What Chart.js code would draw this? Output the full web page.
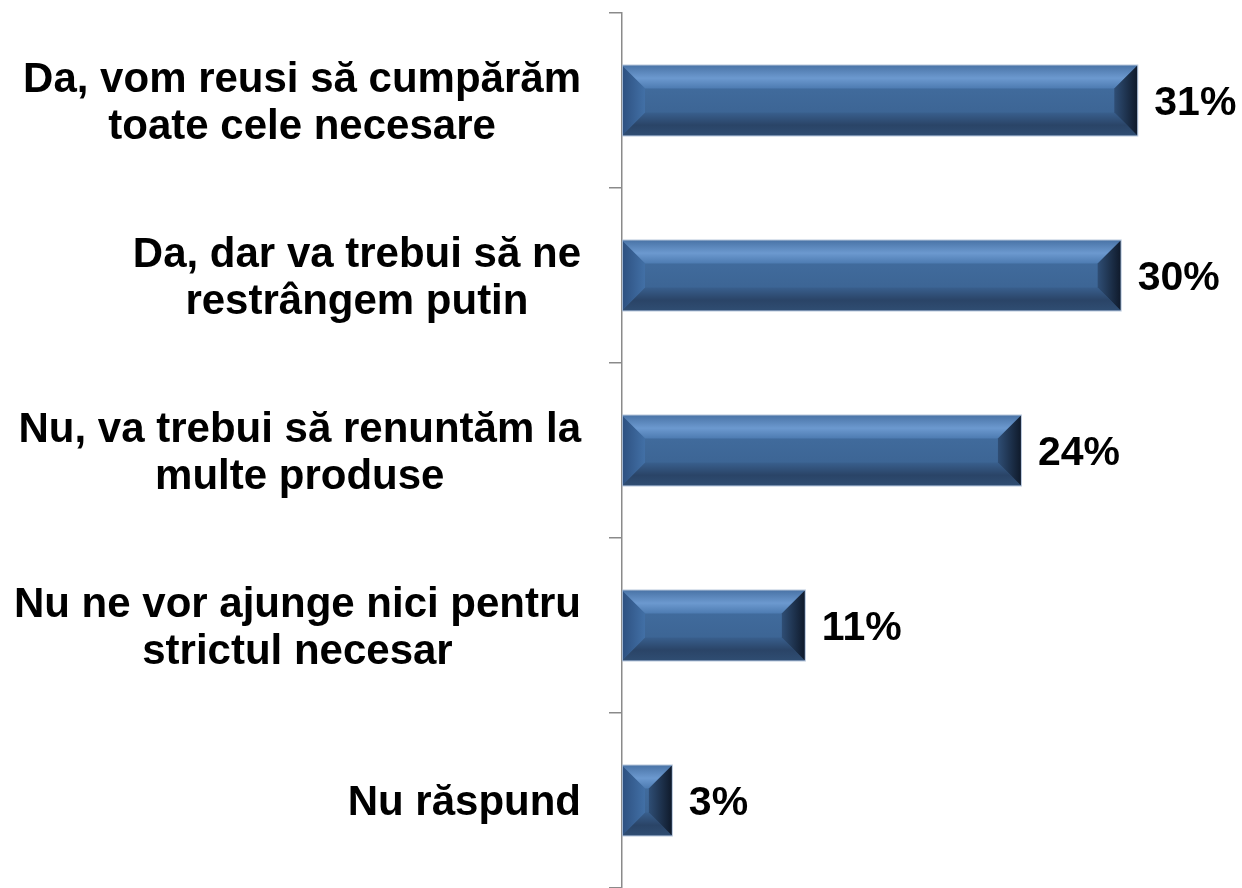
<!DOCTYPE html>
<html lang="ro">
<head>
<meta charset="utf-8">
<title>Grafic</title>
<script src="https://cdn.jsdelivr.net/npm/chart.js@4"></script>
<style>
    html, body { margin: 0; padding: 0; background: #fff; }
    #cadru { width: 1242px; height: 888px; }
</style>
</head>
<body>
<div id="cadru"><canvas id="grafic"></canvas></div>
<script>
// =============================
// DATE
// =============================

const categorii = [
    ['Da, vom reusi să cumpărăm', 'toate cele necesare'],
    ['Da, dar va trebui să ne', 'restrângem putin'],
    ['Nu, va trebui să renuntăm la', 'multe produse'],
    ['Nu ne vor ajunge nici pentru', 'strictul necesar'],
    ['Nu răspund']
];

const procente = [31, 30, 24, 11, 3];

const etichete = ['31%', '30%', '24%', '11%', '3%'];

const FONT_CATEGORII = 'bold 42px "Liberation Sans", Arial, sans-serif';
const FONT_VALORI = 'bold 41px "Liberation Sans", Arial, sans-serif';


// =============================
// PLUGIN: BARE CU BIZOU
// =============================

function poligon(ctx, puncte, umplere) {
    ctx.beginPath();
    ctx.moveTo(puncte[0][0], puncte[0][1]);
    puncte.slice(1).forEach(p => ctx.lineTo(p[0], p[1]));
    ctx.closePath();
    ctx.fillStyle = umplere;
    ctx.fill();
}

const pluginBizou = {
    id: 'bizou',
    afterDatasetsDraw(chart) {
        const ctx = chart.ctx;

        chart.getDatasetMeta(0).data.forEach(bara => {
            const { x, y, base, height } = bara.getProps(['x', 'y', 'base', 'height'], true);
            const st = Math.min(base, x);
            const dr = Math.max(base, x);
            const sus = y - height / 2;
            const jos = y + height / 2;
            const b = Math.min(23, (dr - st) / 2, height / 2);

            ctx.save();

            // fata
            let g = ctx.createLinearGradient(0, sus, 0, jos);
            g.addColorStop(0, '#4470a3');
            g.addColorStop(1, '#39608e');
            ctx.fillStyle = g;
            ctx.fillRect(st, sus, dr - st, jos - sus);

            // sus
            g = ctx.createLinearGradient(0, sus, 0, sus + b);
            g.addColorStop(0, '#4a74a7');
            g.addColorStop(0.55, '#6c99cf');
            g.addColorStop(1, '#4d7bb1');
            poligon(ctx, [[st, sus], [dr, sus], [dr - b, sus + b], [st + b, sus + b]], g);

            // jos
            g = ctx.createLinearGradient(0, jos - b, 0, jos);
            g.addColorStop(0, '#395f8d');
            g.addColorStop(0.55, '#2a4467');
            g.addColorStop(1, '#2f4d72');
            poligon(ctx, [[st, jos], [dr, jos], [dr - b, jos - b], [st + b, jos - b]], g);

            // stanga
            g = ctx.createLinearGradient(st, 0, st + b, 0);
            g.addColorStop(0, '#2d5080');
            g.addColorStop(1, '#4270a6');
            poligon(ctx, [[st, sus], [st + b, sus + b], [st + b, jos - b], [st, jos]], g);

            // dreapta
            g = ctx.createLinearGradient(dr - b, 0, dr, 0);
            g.addColorStop(0, '#2f4e75');
            g.addColorStop(1, '#0f1a2b');
            poligon(ctx, [[dr, sus], [dr - b, sus + b], [dr - b, jos - b], [dr, jos]], g);

            ctx.strokeStyle = 'rgba(175, 192, 215, 0.9)';
            ctx.lineWidth = 1;
            ctx.strokeRect(st + 0.5, sus - 0.5, dr - st, jos - sus + 1);

            ctx.restore();
        });
    }
};


// =============================
// PLUGIN: ETICHETE
// =============================

const pluginEtichete = {
    id: 'etichete',
    afterDraw(chart) {
        const ctx = chart.ctx;
        const scalaY = chart.scales.y;
        const dreapta = scalaY.right - scalaY.options.grid.tickLength - 28;
        const decalaj = 3;

        ctx.save();
        ctx.fillStyle = '#000';
        ctx.textBaseline = 'middle';

        ctx.font = FONT_CATEGORII;
        ctx.textAlign = 'center';
        categorii.forEach((linii, i) => {
            const y = scalaY.getPixelForTick(i) + decalaj;
            const latime = Math.max(...linii.map(l => ctx.measureText(l).width));
            const cx = dreapta - latime / 2;

            linii.forEach((linie, j) => {
                ctx.fillText(linie, cx, y + (j - (linii.length - 1) / 2) * 47);
            });
        });

        ctx.font = FONT_VALORI;
        ctx.textAlign = 'left';
        chart.getDatasetMeta(0).data.forEach((bara, i) => {
            ctx.fillText(etichete[i], bara.x + 17, bara.y + decalaj);
        });

        ctx.restore();
    }
};


// =============================
// GRAFIC
// =============================

new Chart(document.getElementById('grafic'), {
    type: 'bar',
    data: {
        labels: categorii,
        datasets: [{
            data: procente,
            backgroundColor: '#3e6797',
            borderWidth: 0,
            categoryPercentage: 1,
            barPercentage: 0.4
        }]
    },
    options: {
        indexAxis: 'y',
        responsive: true,
        maintainAspectRatio: false,
        animation: false,
        layout: {
            padding: { top: 13, bottom: 0, left: 0, right: 0 }
        },
        plugins: {
            legend: { display: false },
            tooltip: { enabled: false }
        },
        scales: {
            x: {
                display: false,
                min: 0,
                max: 37.3
            },
            y: {
                grid: {
                    drawOnChartArea: false,
                    tickLength: 13,
                    color: '#8a8a8a',
                    lineWidth: 1.5,
                    offset: true
                },
                border: {
                    display: true,
                    color: '#8a8a8a',
                    width: 1.5
                },
                ticks: {
                    display: false
                },
                afterFit(scale) {
                    scale.width = 622;
                    scale.paddingTop = 0;
                    scale.paddingBottom = 0;
                }
            }
        }
    },
    plugins: [pluginBizou, pluginEtichete]
});
</script>
</body>
</html>
